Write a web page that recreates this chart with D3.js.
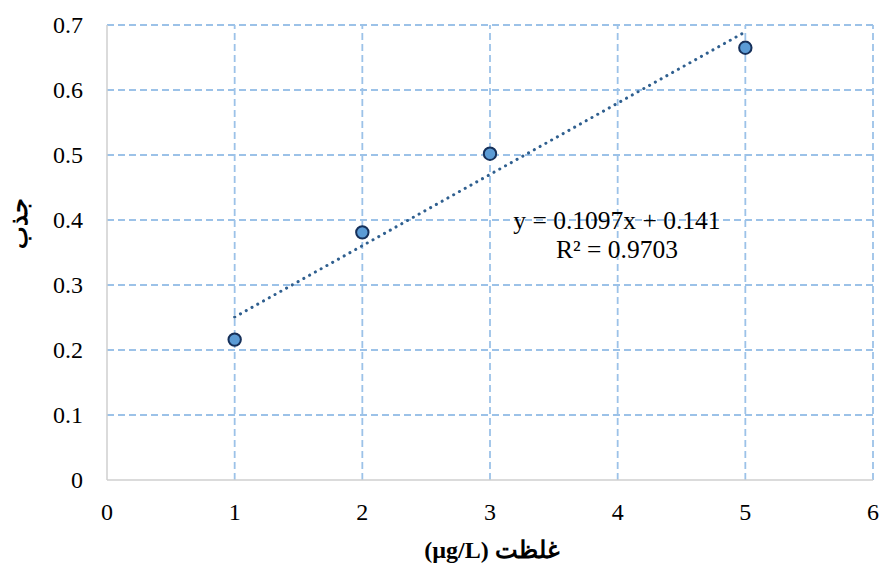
<!DOCTYPE html>
<html>
<head>
<meta charset="utf-8">
<script src="https://cdn.jsdelivr.net/npm/d3@7"></script>
<style>
    body { margin: 0; background: #fff; }
    text { font-family: "Liberation Serif", "DejaVu Serif", serif; }
</style>
</head>
<body>
<script>
// concentration (µg/L) and absorbance
const concentrations = [1, 2, 3, 5]
const absorbances = [0.216, 0.381, 0.502, 0.665]
const xTicks = [0, 1, 2, 3, 4, 5, 6]
const yTicks = [0, 0.1, 0.2, 0.3, 0.4, 0.5, 0.6, 0.7]
const trendSlope = 0.1097
const trendIntercept = 0.141
const equationLines = ["y = 0.1097x + 0.141", "R² = 0.9703"]

const width = 882
const height = 568
const margin = { top: 25, right: 9, bottom: 88, left: 107 }

const svg = d3.select("body")
    .append("svg")
    .attr("width", width)
    .attr("height", height)

const x = d3.scaleLinear().domain([0, 6]).range([margin.left, width - margin.right])
const y = d3.scaleLinear().domain([0, 0.7]).range([height - margin.bottom, margin.top])

// gridlines (dashed, light blue)
svg.append("g")
    .selectAll("line")
    .data(yTicks.slice(1))
    .join("line")
    .attr("x1", x(0))
    .attr("x2", x(6))
    .attr("y1", (d) => y(d))
    .attr("y2", (d) => y(d))
    .attr("stroke", "#9cc2e8")
    .attr("stroke-width", 1.8)
    .attr("stroke-dasharray", "7,4")

svg.append("g")
    .selectAll("line")
    .data(xTicks.slice(1))
    .join("line")
    .attr("x1", (d) => x(d))
    .attr("x2", (d) => x(d))
    .attr("y1", y(0))
    .attr("y2", y(0.7))
    .attr("stroke", "#9cc2e8")
    .attr("stroke-width", 1.8)
    .attr("stroke-dasharray", "7,4")

// axes lines
svg.append("line")
    .attr("x1", x(0)).attr("x2", x(0))
    .attr("y1", y(0)).attr("y2", y(0.7))
    .attr("stroke", "#cfcfcf").attr("stroke-width", 1.5)
svg.append("line")
    .attr("x1", x(0)).attr("x2", x(6))
    .attr("y1", y(0)).attr("y2", y(0))
    .attr("stroke", "#cfcfcf").attr("stroke-width", 1.5)

// tick labels
svg.append("g")
    .selectAll("text")
    .data(yTicks)
    .join("text")
    .attr("x", x(0) - 24)
    .attr("y", (d) => y(d) + 8)
    .attr("text-anchor", "end")
    .attr("font-size", 24)
    .attr("fill", "#000")
    .text((d) => d === 0 ? "0" : d3.format(".1f")(d))

svg.append("g")
    .selectAll("text")
    .data(xTicks)
    .join("text")
    .attr("x", (d) => x(d))
    .attr("y", y(0) + 40)
    .attr("text-anchor", "middle")
    .attr("font-size", 24)
    .attr("fill", "#000")
    .text((d) => d)

// trendline (dotted)
const trendX = [d3.min(concentrations), d3.max(concentrations)]
svg.append("line")
    .attr("x1", x(trendX[0]))
    .attr("y1", y(trendSlope * trendX[0] + trendIntercept))
    .attr("x2", x(trendX[1]))
    .attr("y2", y(trendSlope * trendX[1] + trendIntercept))
    .attr("stroke", "#2f5f8f")
    .attr("stroke-width", 3)
    .attr("stroke-linecap", "round")
    .attr("stroke-dasharray", "0.1,6.5")

// points
svg.append("g")
    .selectAll("circle")
    .data(concentrations)
    .join("circle")
    .attr("cx", (d) => x(d))
    .attr("cy", (d, i) => y(absorbances[i]))
    .attr("r", 6.2)
    .attr("fill", "#5b9bd5")
    .attr("stroke", "#16305a")
    .attr("stroke-width", 2)

// equation
svg.append("g")
    .selectAll("text")
    .data(equationLines)
    .join("text")
    .attr("x", 617)
    .attr("y", (d, i) => 229 + i * 29)
    .attr("text-anchor", "middle")
    .attr("font-size", 25.5)
    .attr("fill", "#000")
    .text((d) => d)

// axis titles
svg.append("text")
    .attr("x", 492)
    .attr("y", 558)
    .attr("text-anchor", "middle")
    .attr("font-size", 24)
    .attr("font-weight", "bold")
    .attr("direction", "rtl")
    .text("غلظت (µg/L)")

svg.append("text")
    .attr("transform", "translate(27,223) rotate(-90)")
    .attr("text-anchor", "middle")
    .attr("font-size", 24)
    .attr("font-weight", "bold")
    .text("جذب")
</script>
</body>
</html>
